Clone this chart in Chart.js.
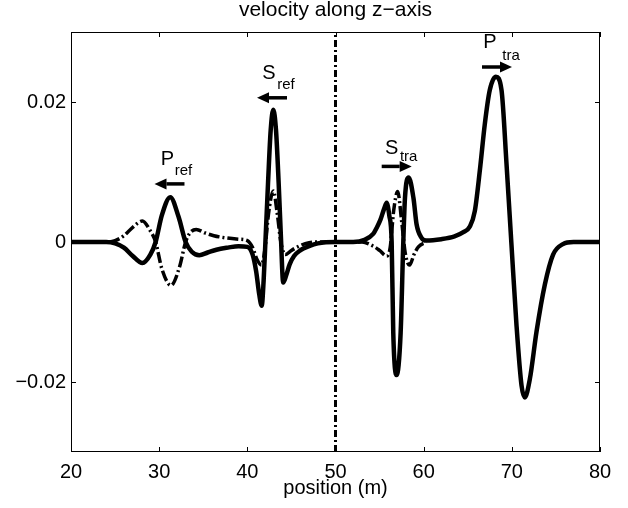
<!DOCTYPE html>
<html>
<head>
<meta charset="utf-8">
<script src="https://cdn.jsdelivr.net/npm/chart.js"></script>
<style>
  html, body { margin: 0; padding: 0; background: #fff; }
  canvas { display: block; }
</style>
</head>
<body>
<canvas id="velChart" width="628" height="508"></canvas>
<script>
// solid curve (thick)
const solidX = [20, 24, 25, 26, 27, 28.1, 29, 29.6, 30.3, 31.26, 32.2, 33, 33.7, 34.55, 35.5, 36.5, 37.8, 39, 40,
  40.6, 41, 41.35, 41.63, 41.85, 42.05, 42.35, 42.65, 42.94, 43.25, 43.55, 43.8, 44.07, 44.4, 44.8, 45.3, 46, 47, 48, 50,
  52, 53.3, 54.3, 54.66, 55.1, 55.5, 55.8, 56.1, 56.37, 56.55, 56.93, 57.39, 57.69, 57.88, 58.3, 58.84, 59.2, 59.76,
  60.3, 62, 63.5, 64.5, 65.24, 65.8, 66.37, 66.94, 67.5, 68.19, 68.83, 69.4, 69.96, 70.53, 71.1, 71.47, 72.04, 72.8,
  73.74, 74.68, 75.8, 77, 80];
const solidY = [0, 0, -0.0002, -0.0008, -0.002, -0.003, -0.0018, 0, 0.0038, 0.0064, 0.0036, 0, -0.0014, -0.0019,
  -0.0015, -0.0011, -0.0008, -0.0006, -0.0007,
  -0.0018, -0.0042, -0.0075, -0.0091, -0.0055, 0, 0.0085, 0.016, 0.0189, 0.016, 0.0085, 0.001, -0.0058, -0.0048,
  -0.0032, -0.002, -0.0012, -0.0006, -0.0002, 0,
  0, 0.0003, 0.0012, 0.002, 0.0032, 0.0047, 0.0056, 0.0038, 0, -0.0129, -0.019, -0.0129, 0, 0.0063, 0.0092, 0.0063,
  0.0025, 0.0006,
  0.0002, 0.0004, 0.0008, 0.0014, 0.0022, 0.0044, 0.0102, 0.0169, 0.0217, 0.0236, 0.0217, 0.0111, -0.0004, -0.0119,
  -0.0205, -0.0222, -0.0196, -0.0128,
  -0.0061, -0.0018, -0.0003, 0, 0];

// dash-dot curve (stops once it has died out past the interface)
const dashX = [20, 24, 25, 26, 27, 28.1, 28.9, 29.6, 30.3, 31.34, 32.3, 33, 33.5, 34.2, 35.2, 36.2, 37.5, 39, 40,
  40.6, 41.1, 41.6, 42, 42.4, 42.94, 43.4, 43.8, 44.3, 45, 46, 47, 48, 53,
  54.3, 55, 55.8, 56.2, 56.6, 57.05, 57.5, 57.9, 58.4, 58.9, 59.4, 60.3];
const dashY = [0, 0, 0.0002, 0.0009, 0.0021, 0.003, 0.0018, 0, -0.0038, -0.0062, -0.0036, 0, 0.0013, 0.0018,
  0.0013, 0.0009, 0.0006, 0.0004, 0.0002,
  -0.0008, -0.0025, -0.0033, -0.001, 0.004, 0.0073, 0.004, 0, -0.0018, -0.0012, -0.0005, -0.0001, 0, 0,
  -0.0006, -0.0012, -0.002, -0.0008, 0.0045, 0.0072, 0.003, -0.0015, -0.0033, -0.0018, -0.0007, 0];

// interface marker
const markX = [50, 50];
const markY = [-0.03, 0.03];

const xTicks = [20, 30, 40, 50, 60, 70, 80];
const yTicks = [-0.02, 0, 0.02];

// wave labels: letter, subscript, arrow direction
const waveNames = ['P', 'S', 'S', 'P'];
const waveSubs = ['ref', 'ref', 'tra', 'tra'];
const waveDirs = [-1, -1, 1, 1];

// where the labels sit (axis units)
const labelSpots = [
  { name: [30.95, 0.01175], sub: [32.76, 0.0102], arrow: [31.17, 0.0083] },
  { name: [42.46, 0.0241], sub: [44.39, 0.0224], arrow: [42.8, 0.0206] },
  { name: [56.37, 0.01334], sub: [58.3, 0.0122], arrow: [56.94, 0.0108] },
  { name: [67.52, 0.02852], sub: [69.91, 0.02657], arrow: [68.32, 0.025] }
];

const FONT = "'Liberation Sans', Arial, Helvetica, sans-serif";
const toPoints = (xs, ys) => xs.map((x, i) => ({ x: x, y: ys[i] }));

// box with inward ticks on all four sides, plus the wave labels
const axesBox = {
  id: 'axesBox',
  afterDatasetsDraw(chart) {
    const { ctx, chartArea: a, scales } = chart;
    const sx = scales.x, sy = scales.y;
    ctx.save();
    ctx.strokeStyle = '#000';
    ctx.lineWidth = 1;
    ctx.strokeRect(a.left + 0.5, a.top + 0.5, a.right - a.left - 1, a.bottom - a.top - 1);
    ctx.beginPath();
    sx.ticks.forEach(t => {
      const px = Math.round(sx.getPixelForValue(t.value)) + 0.5;
      ctx.moveTo(px, a.bottom); ctx.lineTo(px, a.bottom - 5);
      ctx.moveTo(px, a.top); ctx.lineTo(px, a.top + 5);
    });
    sy.ticks.forEach(t => {
      const py = Math.round(sy.getPixelForValue(t.value)) + 0.5;
      ctx.moveTo(a.left, py); ctx.lineTo(a.left + 5, py);
      ctx.moveTo(a.right, py); ctx.lineTo(a.right - 5, py);
    });
    ctx.stroke();

    ctx.fillStyle = '#000';
    ctx.textAlign = 'center';
    ctx.textBaseline = 'middle';
    labelSpots.forEach((s, i) => {
      ctx.font = '20px ' + FONT;
      ctx.fillText(waveNames[i], sx.getPixelForValue(s.name[0]), sy.getPixelForValue(s.name[1]));
      ctx.font = '15px ' + FONT;
      ctx.fillText(waveSubs[i], sx.getPixelForValue(s.sub[0]), sy.getPixelForValue(s.sub[1]));

      const cx = sx.getPixelForValue(s.arrow[0]);
      const cy = sy.getPixelForValue(s.arrow[1]);
      const d = waveDirs[i];
      const tip = cx + d * 15;
      const base = tip - d * 12;
      ctx.lineWidth = 3.5;
      ctx.beginPath();
      ctx.moveTo(cx - d * 15, cy);
      ctx.lineTo(base, cy);
      ctx.stroke();
      ctx.beginPath();
      ctx.moveTo(tip, cy);
      ctx.lineTo(base, cy - 5.5);
      ctx.lineTo(base, cy + 5.5);
      ctx.closePath();
      ctx.fill();
    });
    ctx.restore();
  }
};

Chart.defaults.color = '#000';
Chart.defaults.font.family = FONT;

new Chart(document.getElementById('velChart'), {
  type: 'line',
  data: {
    datasets: [
      {
        data: toPoints(solidX, solidY),
        borderColor: '#000',
        borderWidth: 4.5,
        pointRadius: 0,
        cubicInterpolationMode: 'monotone',
        order: 0
      },
      {
        data: toPoints(dashX, dashY),
        borderColor: '#000',
        borderWidth: 3.5,
        borderDash: [11, 3, 2, 3],
        pointRadius: 0,
        cubicInterpolationMode: 'monotone',
        order: 1
      },
      {
        data: toPoints(markX, markY),
        borderColor: '#000',
        borderWidth: 3,
        borderDash: [7, 3, 2, 3],
        pointRadius: 0,
        order: 2
      }
    ]
  },
  options: {
    responsive: false,
    devicePixelRatio: 1,
    animation: false,
    layout: { padding: { left: 0, right: 28, top: 0, bottom: 0 } },
    plugins: {
      legend: { display: false },
      tooltip: { enabled: false },
      title: {
        display: true,
        fullSize: false,
        text: 'velocity along z\u2212axis',
        font: { size: 21, weight: 'normal', lineHeight: 1 },
        padding: { top: 0, bottom: 11 }
      }
    },
    scales: {
      x: {
        type: 'linear',
        min: 20,
        max: 80,
        afterBuildTicks: s => { s.ticks = xTicks.map(v => ({ value: v })); },
        afterFit: s => { s.height = 56; },
        grid: { display: false, drawTicks: false },
        border: { display: false },
        ticks: { font: { size: 20 }, padding: 8, maxRotation: 0 },
        title: {
          display: true,
          text: 'position (m)',
          font: { size: 20 },
          padding: { top: 0, bottom: 8 }
        }
      },
      y: {
        min: -0.03,
        max: 0.03,
        afterBuildTicks: s => { s.ticks = yTicks.map(v => ({ value: v })); },
        afterFit: s => { s.width = 71; },
        grid: { display: false, drawTicks: false },
        border: { display: false },
        ticks: {
          font: { size: 20 },
          padding: 5,
          callback: v => v === 0 ? '0' : (v < 0 ? '\u2212' : '') + Math.abs(v).toString()
        }
      }
    }
  },
  plugins: [axesBox]
});
</script>
</body>
</html>
